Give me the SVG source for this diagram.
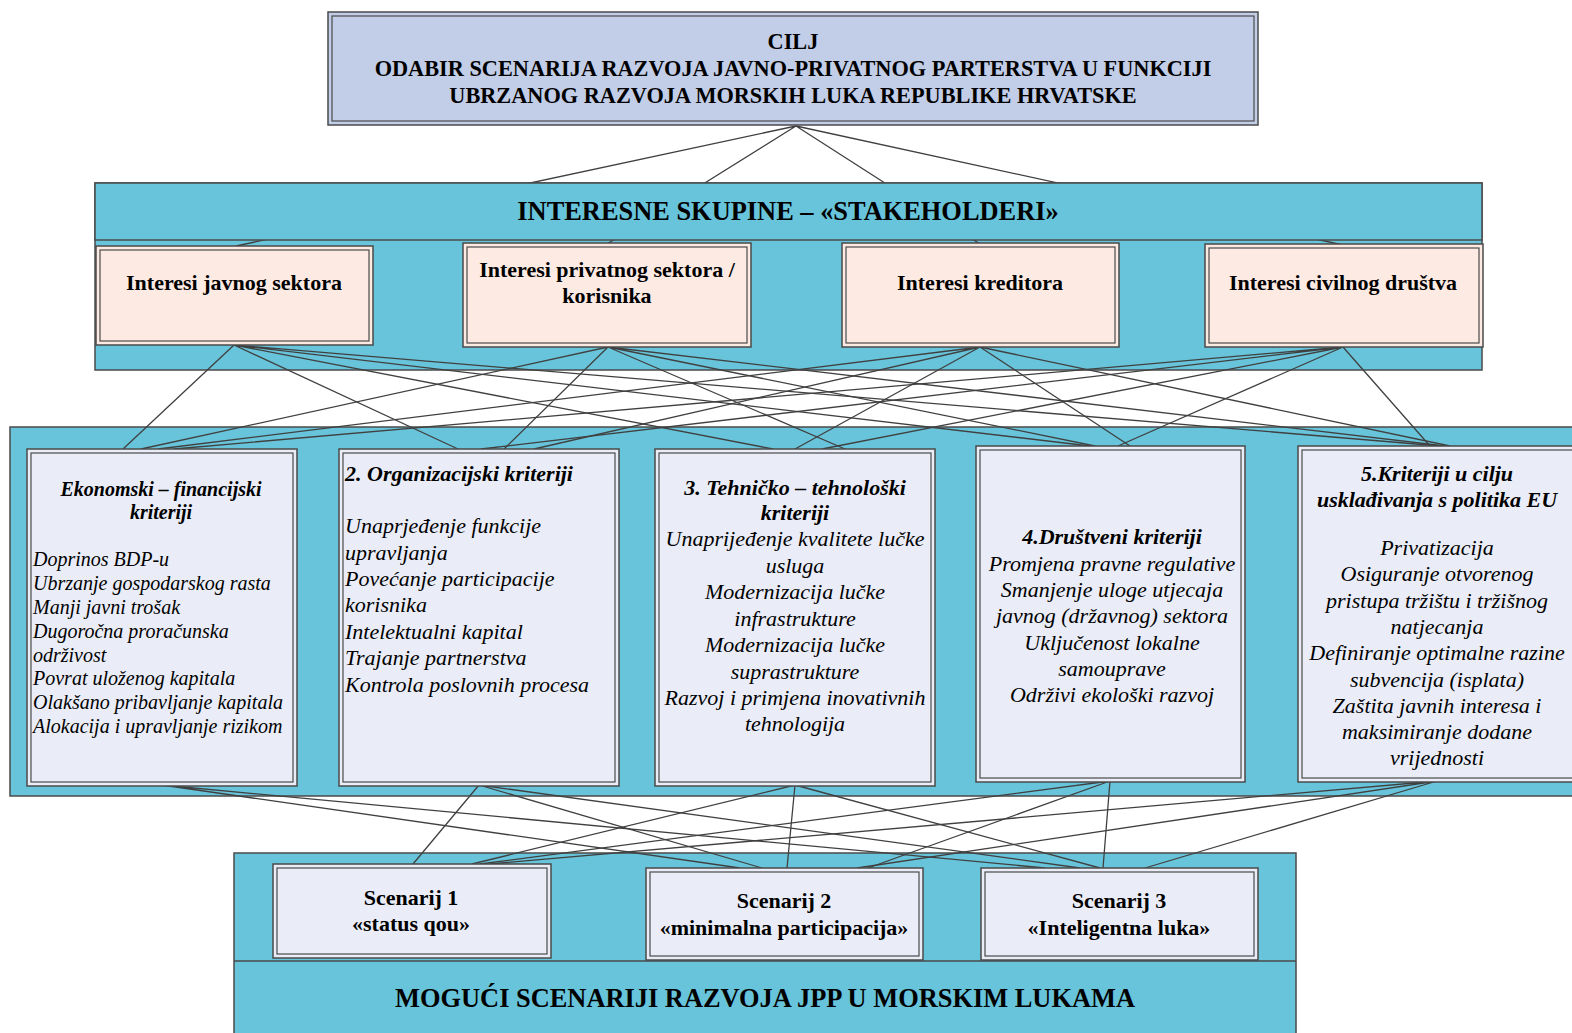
<svg xmlns="http://www.w3.org/2000/svg" width="1572" height="1033" viewBox="0 0 1572 1033">
<style>
.band{fill:#68C4DA;stroke:#4a4a4a;stroke-width:1.5}
.goal{fill:#C2CDE7;stroke:#4a4a4a;stroke-width:1.5}
.pink{fill:#FCEAE3;stroke:#4a4a4a;stroke-width:1.5}
.lav{fill:#EAEDF7;stroke:#4a4a4a;stroke-width:1.5}
.in{fill:none;stroke:#4a4a4a;stroke-width:1.2}
#connectors path{fill:none;stroke:#404040;stroke-width:1.3}
text{font-family:"Liberation Serif","Times New Roman",serif;fill:#000}
.b{font-weight:bold}
.it{font-style:italic}
.m{text-anchor:middle}
.f20{font-size:22.3px}
.f22{font-size:22px}
.f26{font-size:26.4px}
.e20{font-size:20px}
</style>
<rect width="1572" height="1033" fill="#ffffff"/>

<!-- bands -->
<g id="band-stakeholders"><rect class="band" x="95" y="183" width="1387" height="187"/></g>
<g id="band-criteria"><rect class="band" x="10" y="427" width="1575" height="369"/></g>
<g id="band-scenarios"><rect class="band" x="234" y="853" width="1062" height="190"/><line x1="234" y1="961" x2="1296" y2="961" stroke="#4a4a4a" stroke-width="1.5"/></g>

<!-- connectors -->
<g id="connectors">
<path d="M796,126 L236,246 M796,126 L607,244 M796,126 L980,244 M796,126 L1343,245"/>
<path d="M234,345 L123,449 M234,345 L458,449 M234,345 L773,449 M234,345 L1090,446 M234,345 L1440,446"/>
<path d="M608,347 L141,449 M608,347 L504,449 M608,347 L845,449 M608,347 L1095,446 M608,347 L1445,446"/>
<path d="M980,347 L158,449 M980,347 L534,449 M980,347 L795,449 M980,347 L1130,446 M980,347 L1450,446"/>
<path d="M1343,347 L174,449 M1343,347 L481,449 M1343,347 L822,449 M1343,347 L1118,446 M1343,347 L1430,446"/>
<path d="M162,785 L740,868 M162,785 L1045,868"/>
<path d="M479,785 L413,864 M479,785 L762,868 M479,785 L1080,868"/>
<path d="M795,785 L472,864 M795,785 L787,868 M795,785 L1100,868"/>
<path d="M1110,781 L480,864 M1110,781 L868,868 M1110,781 L1103,868"/>
<path d="M1437,781 L490,864 M1437,781 L857,868 M1437,781 L1145,868"/>
</g>

<!-- header overlay of stakeholder band -->
<g id="stakeholders-header">
<rect class="band" x="95" y="183" width="1387" height="57"/>
<text class="b f26 m" x="788" y="220">INTERESNE SKUPINE – «STAKEHOLDERI»</text>
</g>

<!-- goal -->
<g id="goal">
<rect class="goal" x="328" y="12" width="930" height="113"/>
<rect class="in" x="332" y="16" width="922" height="105"/>
<text class="b f20 m" x="793" y="49">CILJ</text>
<text class="b f20 m" x="793" y="76">ODABIR SCENARIJA RAZVOJA JAVNO-PRIVATNOG PARTERSTVA U FUNKCIJI</text>
<text class="b f20 m" x="793" y="103">UBRZANOG RAZVOJA MORSKIH LUKA REPUBLIKE HRVATSKE</text>
</g>

<!-- stakeholders -->
<g id="stakeholder-public">
<rect class="pink" x="96" y="246" width="277" height="99"/>
<rect class="in" x="100" y="250" width="269" height="91"/>
<text class="b f22 m" x="234" y="290">Interesi javnog sektora</text>
</g>
<g id="stakeholder-private">
<rect class="pink" x="463" y="243" width="288" height="104"/>
<rect class="in" x="467" y="247" width="280" height="96"/>
<text class="b f22 m" x="607" y="277">Interesi privatnog sektora /</text>
<text class="b f22 m" x="607" y="303">korisnika</text>
</g>
<g id="stakeholder-creditors">
<rect class="pink" x="842" y="243" width="277" height="104"/>
<rect class="in" x="846" y="247" width="269" height="96"/>
<text class="b f22 m" x="980" y="290">Interesi kreditora</text>
</g>
<g id="stakeholder-civil">
<rect class="pink" x="1205" y="244" width="278" height="103"/>
<rect class="in" x="1209" y="248" width="270" height="95"/>
<text class="b f22 m" x="1343" y="290">Interesi civilnog društva</text>
</g>

<!-- criteria -->
<g id="criteria-1">
<rect class="lav" x="27" y="449" width="270" height="337"/>
<rect class="in" x="31" y="453" width="262" height="329"/>
<text class="b it e20 m" x="161" y="496">Ekonomski – financijski</text>
<text class="b it e20 m" x="161" y="519">kriteriji</text>
<text class="it e20" x="33" y="566">Doprinos BDP-u</text>
<text class="it e20" x="33" y="590">Ubrzanje gospodarskog rasta</text>
<text class="it e20" x="33" y="614">Manji javni trošak</text>
<text class="it e20" x="33" y="638">Dugoročna proračunska</text>
<text class="it e20" x="33" y="662">održivost</text>
<text class="it e20" x="33" y="685">Povrat uloženog kapitala</text>
<text class="it e20" x="33" y="709">Olakšano pribavljanje kapitala</text>
<text class="it e20" x="33" y="733">Alokacija i upravljanje rizikom</text>
</g>
<g id="criteria-2">
<rect class="lav" x="339" y="449" width="280" height="337"/>
<rect class="in" x="343" y="453" width="272" height="329"/>
<text class="b it f22" x="345" y="481">2. Organizacijski kriteriji</text>
<text class="it f22" x="345" y="533">Unaprjeđenje funkcije</text>
<text class="it f22" x="345" y="560">upravljanja</text>
<text class="it f22" x="345" y="586">Povećanje participacije</text>
<text class="it f22" x="345" y="612">korisnika</text>
<text class="it f22" x="345" y="639">Intelektualni kapital</text>
<text class="it f22" x="345" y="665">Trajanje partnerstva</text>
<text class="it f22" x="345" y="692">Kontrola poslovnih procesa</text>
</g>
<g id="criteria-3">
<rect class="lav" x="655" y="449" width="280" height="337"/>
<rect class="in" x="659" y="453" width="272" height="329"/>
<text class="b it f22 m" x="795" y="495">3. Tehničko – tehnološki</text>
<text class="b it f22 m" x="795" y="520">kriteriji</text>
<text class="it f22 m" x="795" y="546">Unaprijeđenje kvalitete lučke</text>
<text class="it f22 m" x="795" y="573">usluga</text>
<text class="it f22 m" x="795" y="599">Modernizacija lučke</text>
<text class="it f22 m" x="795" y="626">infrastrukture</text>
<text class="it f22 m" x="795" y="652">Modernizacija lučke</text>
<text class="it f22 m" x="795" y="679">suprastrukture</text>
<text class="it f22 m" x="795" y="705">Razvoj i primjena inovativnih</text>
<text class="it f22 m" x="795" y="731">tehnologija</text>
</g>
<g id="criteria-4">
<rect class="lav" x="976" y="446" width="269" height="336"/>
<rect class="in" x="980" y="450" width="261" height="328"/>
<text class="b it f22 m" x="1112" y="544">4.Društveni kriteriji</text>
<text class="it f22 m" x="1112" y="571">Promjena pravne regulative</text>
<text class="it f22 m" x="1112" y="597">Smanjenje uloge utjecaja</text>
<text class="it f22 m" x="1112" y="623">javnog (državnog) sektora</text>
<text class="it f22 m" x="1112" y="650">Uključenost lokalne</text>
<text class="it f22 m" x="1112" y="676">samouprave</text>
<text class="it f22 m" x="1112" y="702">Održivi ekološki razvoj</text>
</g>
<g id="criteria-5">
<rect class="lav" x="1298" y="446" width="290" height="336"/>
<rect class="in" x="1302" y="450" width="282" height="328"/>
<text class="b it f22 m" x="1437" y="481">5.Kriteriji u cilju</text>
<text class="b it f22 m" x="1437" y="507">usklađivanja s politika EU</text>
<text class="it f22 m" x="1437" y="555">Privatizacija</text>
<text class="it f22 m" x="1437" y="581">Osiguranje otvorenog</text>
<text class="it f22 m" x="1437" y="608">pristupa tržištu i tržišnog</text>
<text class="it f22 m" x="1437" y="634">natjecanja</text>
<text class="it f22 m" x="1437" y="660">Definiranje optimalne razine</text>
<text class="it f22 m" x="1437" y="687">subvencija (isplata)</text>
<text class="it f22 m" x="1437" y="713">Zaštita javnih interesa i</text>
<text class="it f22 m" x="1437" y="739">maksimiranje dodane</text>
<text class="it f22 m" x="1437" y="765">vrijednosti</text>
</g>

<!-- scenarios -->
<g id="scenario-1">
<rect class="lav" x="273" y="864" width="278" height="94"/>
<rect class="in" x="277" y="868" width="270" height="86"/>
<text class="b f22 m" x="411" y="905">Scenarij 1</text>
<text class="b f22 m" x="411" y="931">«status qou»</text>
</g>
<g id="scenario-2">
<rect class="lav" x="646" y="868" width="277" height="92"/>
<rect class="in" x="650" y="872" width="269" height="84"/>
<text class="b f22 m" x="784" y="908">Scenarij 2</text>
<text class="b f22 m" x="784" y="935">«minimalna participacija»</text>
</g>
<g id="scenario-3">
<rect class="lav" x="981" y="868" width="277" height="92"/>
<rect class="in" x="985" y="872" width="269" height="84"/>
<text class="b f22 m" x="1119" y="908">Scenarij 3</text>
<text class="b f22 m" x="1119" y="935">«Inteligentna luka»</text>
</g>
<g id="scenarios-title">
<text class="b f26 m" x="765" y="1007">MOGUĆI SCENARIJI RAZVOJA JPP U MORSKIM LUKAMA</text>
</g>
</svg>
